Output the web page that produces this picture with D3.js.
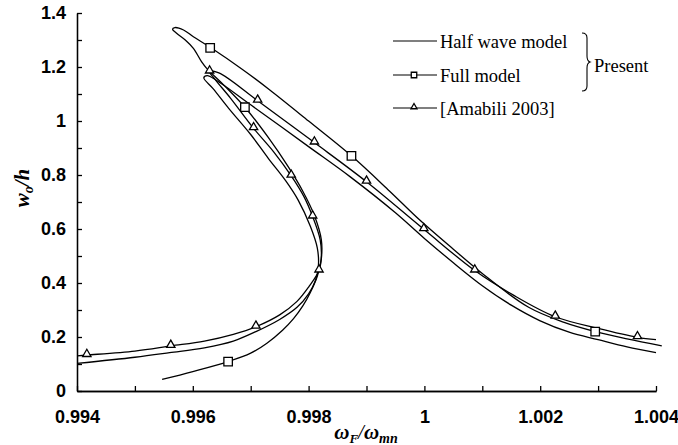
<!DOCTYPE html>
<html>
<head>
<meta charset="utf-8">
<script src="https://cdn.jsdelivr.net/npm/d3@7"></script>
<style>
  body { margin: 0; background: #fff; }
  svg { font-family: "Liberation Serif", "Times New Roman", serif; }
  .axis path, .axis line { stroke: #000; stroke-width: 1.3; }
  .axis text { font-size: 18px; font-weight: bold; fill: #000; }
  .curve { fill: none; stroke: #000; stroke-width: 1.3; }
  .mark { fill: #fff; stroke: #000; stroke-width: 1.3; }
</style>
</head>
<body>
<svg id="chart"></svg>
<script>

// tick values and labels
var xTicks = [0.994, 0.996, 0.998, 1, 1.002, 1.004];
var xTickLabels = ["0.994", "0.996", "0.998", "1", "1.002", "1.004"];
var xMinor = [0.995, 0.997, 0.999, 1.001, 1.003];
var yTicks = [0, 0.2, 0.4, 0.6, 0.8, 1, 1.2, 1.4];
var yTickLabels = ["0", "0.2", "0.4", "0.6", "0.8", "1", "1.2", "1.4"];
var yMinor = [0.1, 0.3, 0.5, 0.7, 0.9, 1.1, 1.3];

// Half wave model (plain line)
var halfWave = [
  [0.9940,0.102],[0.9950,0.125],[0.9956,0.142],[0.9962,0.160],[0.9967,0.185],[0.99709,0.220],
  [0.9975,0.265],[0.9978,0.310],[0.9980,0.360],[0.99812,0.410],[0.99817,0.465],[0.99815,0.53],
  [0.99803,0.61],[0.99782,0.707],[0.99760,0.78],[0.99731,0.86],[0.99700,0.95],[0.99662,1.047],
  [0.99635,1.12],[0.99619,1.160],[0.99625,1.168],[0.9964,1.152],[0.9970,1.060],[0.9980,0.905],
  [0.99872,0.793],[0.9995,0.66],[1.0000,0.565],[1.0005,0.475],[1.0010,0.390],[1.0015,0.318],
  [1.0020,0.260],[1.0025,0.218],[1.0030,0.190],[1.0035,0.163],[1.0040,0.142]
];

// Full model (squares)
var fullModel = [
  [0.99547,0.043],[0.9960,0.072],[0.99661,0.109],[0.9970,0.140],[0.99728,0.177],[0.99755,0.225],
  [0.99774,0.268],[0.99790,0.315],[0.99803,0.365],[0.99815,0.425],[0.99822,0.49],[0.99822,0.56],
  [0.99810,0.65],[0.99790,0.74],[0.99765,0.83],[0.99730,0.94],[0.99690,1.051],[0.99655,1.13],
  [0.99624,1.195],[0.99615,1.220],[0.99601,1.269],[0.99587,1.300],[0.99572,1.325],[0.99565,1.340],
  [0.99569,1.346],[0.99584,1.337],[0.99601,1.312],[0.99630,1.273],[0.99687,1.189],[0.99733,1.115],
  [0.9980,1.000],[0.99874,0.871],[0.9994,0.740],[0.99992,0.633],[1.0005,0.525],[1.0010,0.435],
  [1.0018,0.310],[1.0024,0.255],[1.00295,0.220],[1.0035,0.193],[1.0041,0.167]
];
var fullMarks = [[0.99661,0.109],[0.99690,1.051],[0.99630,1.271],[0.99874,0.871],[1.00295,0.220]];

// [Amabili 2003] (triangles)
var amabili = [
  [0.9940,0.130],[0.99417,0.133],[0.9950,0.148],[0.99562,0.167],[0.9962,0.185],[0.9967,0.210],
  [0.99709,0.238],[0.9975,0.282],[0.9978,0.332],[0.9980,0.385],[0.99818,0.446],[0.99822,0.50],
  [0.99820,0.56],[0.99807,0.646],[0.99792,0.72],[0.99770,0.797],[0.99740,0.885],[0.99705,0.973],
  [0.99665,1.085],[0.99638,1.155],[0.99629,1.183],[0.99645,1.178],[0.99712,1.075],[0.99810,0.920],
  [0.99900,0.775],[0.99999,0.599],[1.00087,0.446],[1.00153,0.356],[1.00226,0.275],[1.0030,0.232],
  [1.00368,0.199],[1.0040,0.190]
];
var amabiliMarks = [
  [0.99417,0.133],[0.99562,0.167],[0.99709,0.238],[0.99818,0.446],[0.99807,0.646],[0.99770,0.797],
  [0.99705,0.973],[0.99629,1.183],[0.99712,1.075],[0.99810,0.920],[0.99900,0.775],[0.99999,0.599],
  [1.00087,0.446],[1.00226,0.275],[1.00368,0.199]
];

function drawChart(svg){

  var margin = {top: 13, right: 22, bottom: 54, left: 77},
      width = 678 - margin.left - margin.right,
      height = 445 - margin.top - margin.bottom;

  var root = d3.select(svg)
      .attr("width", 678)
      .attr("height", 445);

  var g = root.append("g")
      .attr("transform", "translate(" + margin.left + "," + margin.top + ")");

  var x = d3.scaleLinear().domain([0.994, 1.004]).range([0, width]);
  var y = d3.scaleLinear().domain([0, 1.4]).range([height, 0]);

  // minor ticks
  g.append("g")
      .attr("class", "axis")
      .attr("transform", "translate(0," + height + ")")
      .call(d3.axisBottom(x).tickValues(xMinor).tickSizeInner(-5).tickSizeOuter(0).tickFormat(""));
  g.append("g")
      .attr("class", "axis")
      .call(d3.axisLeft(y).tickValues(yMinor).tickSizeInner(-5).tickSizeOuter(0).tickFormat(""));

  // x axis
  g.append("g")
      .attr("class", "axis")
      .attr("transform", "translate(0," + height + ")")
      .call(d3.axisBottom(x).tickValues(xTicks).tickSizeInner(-5).tickSizeOuter(0).tickPadding(19)
        .tickFormat(function(d, i) { return xTickLabels[i]; }));

  // y axis
  g.append("g")
      .attr("class", "axis")
      .call(d3.axisLeft(y).tickValues(yTicks).tickSizeInner(-5).tickSizeOuter(0).tickPadding(11)
        .tickFormat(function(d, i) { return yTickLabels[i]; }));

  var line = d3.line()
      .x(function(d) { return x(d[0]); })
      .y(function(d) { return y(d[1]); })
      .curve(d3.curveCatmullRom.alpha(0.5));

  [halfWave, fullModel, amabili].forEach(function(s) {
    g.append("path").datum(s).attr("class", "curve").attr("d", line);
  });

  var sq = d3.symbol().type(d3.symbolSquare).size(72);
  var tri = d3.symbol().type(d3.symbolTriangle).size(30);

  g.selectAll(".sq")
    .data(fullMarks)
    .enter().append("path")
    .attr("class", "mark")
    .attr("d", sq)
    .attr("transform", function(d) { return "translate(" + x(d[0]) + "," + y(d[1]) + ")"; });

  g.selectAll(".tri")
    .data(amabiliMarks)
    .enter().append("path")
    .attr("class", "mark")
    .attr("d", tri)
    .attr("transform", function(d) { return "translate(" + x(d[0]) + "," + (y(d[1]) - 1) + ")"; });

  // legend
  var leg = root.append("g").style("font-size", "18.5px");
  var rows = [
    {label: "Half wave model", y: 41, mark: null},
    {label: "Full model", y: 75, mark: "sq"},
    {label: "[Amabili 2003]", y: 108, mark: "tri"}
  ];
  rows.forEach(function(r) {
    leg.append("line")
      .attr("x1", 393).attr("x2", 437).attr("y1", r.y).attr("y2", r.y)
      .attr("stroke", "#000").attr("stroke-width", 1.2);
    if (r.mark == "sq") {
      leg.append("path").attr("class", "mark").attr("stroke-width", 1)
        .attr("d", d3.symbol().type(d3.symbolSquare).size(30)())
        .attr("transform", "translate(414," + r.y + ")");
    }
    if (r.mark == "tri") {
      leg.append("path").attr("class", "mark").attr("stroke-width", 1)
        .attr("d", d3.symbol().type(d3.symbolTriangle).size(16)())
        .attr("transform", "translate(414," + (r.y - 1) + ")");
    }
    leg.append("text")
      .attr("x", 440).attr("y", r.y + 7)
      .text(r.label);
  });

  // brace for "Present"
  leg.append("path")
    .attr("d", "M582,33 Q587,33 587,38 L587,56 Q587,61 590,62 Q587,63 587,68 L587,86 Q587,91 582,91")
    .attr("fill", "none").attr("stroke", "#000").attr("stroke-width", 1.1);
  leg.append("text").attr("x", 594).attr("y", 72).text("Present");

  // axis titles
  var yt = root.append("text")
    .attr("transform", "translate(29," + 188 + ") rotate(-90)")
    .style("text-anchor", "middle")
    .style("font-size", "21px").style("font-weight", "bold").style("font-style", "italic");
  yt.append("tspan").text("w");
  yt.append("tspan").attr("dy", 4).style("font-size", "14px").text("o");
  yt.append("tspan").attr("dy", -4).text("/h");

  var xt = root.append("text")
    .attr("x", 366).attr("y", 439)
    .style("text-anchor", "middle")
    .style("font-size", "21px").style("font-weight", "bold").style("font-style", "italic");
  xt.append("tspan").text("ω");
  xt.append("tspan").attr("dy", 4).style("font-size", "13px").text("F");
  xt.append("tspan").attr("dy", -4).style("font-weight", "normal").text("/");
  xt.append("tspan").text("ω");
  xt.append("tspan").attr("dy", 4).style("font-size", "14px").text("mn");
}

drawChart(document.querySelector("#chart"));
</script>
</body>
</html>
